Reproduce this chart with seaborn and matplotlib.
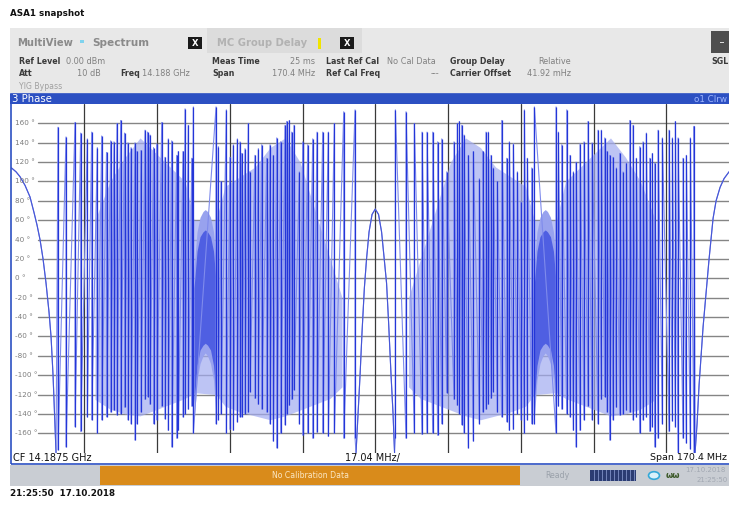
import matplotlib
matplotlib.use("Agg")
import matplotlib.pyplot as plt
import seaborn as sns
import numpy as np
from matplotlib.patches import Rectangle

# ---- trace values (x: MHz from CF, y: phase in deg) ----
left_arc_mhz = [-85.2, -84.14, -83.21, -82.03, -80.86, -79.93, -79.22, -78.52,
                -77.81, -77.11, -76.41, -75.94, -75.47, -75.12, -74.77]
left_arc_deg = [114, 110, 105, 96, 84, 68, 55, 40, 20, -5, -35, -60, -100, -140, -180]

center_arc_mhz = [-4.50, -4.03, -3.56, -3.09, -2.55, -2.04, -1.45, -0.75, 0.0,
                  0.77, 1.48, 2.06, 2.65, 3.12, 3.70, 4.17, 4.52]
center_arc_deg = [-180, -140, -100, -55, -10, 20, 48, 66, 71.5,
                  66, 48, 22, -5, -45, -100, -140, -180]

right_arc_mhz = [74.91, 75.38, 75.85, 76.32, 76.79, 77.49, 78.19, 79.13, 79.83,
                 80.77, 81.70, 82.87, 85.2]
right_arc_deg = [-180, -150, -110, -80, -50, -15, 20, 62, 80, 94, 103, 110, 120]

left_teeth_mhz = [-74.30, -72.43, -70.32, -68.99, -67.44, -66.41, -65.10, -64.07, -62.94, -61.96,
                  -61.19, -60.48, -59.62, -58.73, -57.91, -57.20, -56.27, -55.80, -54.86, -53.92,
                  -53.34, -52.75, -51.93, -51.18, -50.01, -49.24, -48.47, -47.67, -46.50, -46.12,
                  -45.02, -44.55, -43.78, -42.98, -42.61, -37.29, -36.75, -36.12, -34.88, -34.01,
                  -33.24, -32.30, -31.67, -31.27, -30.50, -29.73, -29.33, -28.16, -27.38, -26.59,
                  -25.42, -24.64, -23.87, -23.07, -22.14, -21.13, -20.73, -20.12, -19.56, -19.02,
                  -17.78, -16.98, -15.81, -14.64, -13.63, -12.30, -10.99, -9.58, -7.38, -4.73]
left_teeth_top = [156, 146, 161, 150, 144, 151, 135, 147, 130, 142,
                  141, 160, 163, 150, 140, 135, 140, 131, 132, 153,
                  151, 148, 135, 139, 161, 125, 144, 142, 127, 131,
                  131, 175, 158, 124, 177, 177, 136, 100, 174, 125,
                  138, 144, 141, 129, 134, 160, 110, 127, 134, 138,
                  124, 138, 127, 145, 141, 158, 162, 163, 151, 158,
                  110, 141, 138, 144, 151, 151, 151, 160, 172, 174]
left_teeth_bot = [-177, -174, -153, -158, -143, -146, -160, -146, -143, -138,
                  -136, -141, -140, -133, -146, -150, -167, -150, -138, -125,
                  -122, -130, -150, -146, -132, -145, -157, -174, -165, -157,
                  -143, -140, -135, -132, -160, -150, -146, -140, -160, -156,
                  -157, -148, -143, -143, -140, -138, -117, -124, -130, -135,
                  -138, -150, -168, -175, -160, -151, -140, -131, -125, -115,
                  -150, -162, -160, -165, -159, -160, -163, -160, -165, -165]

right_teeth_mhz = [4.71, 7.21, 9.16, 10.96, 12.13, 13.47, 14.64, 15.58, 16.75, 18.46,
                   19.23, 19.70, 20.26, 20.80, 21.81, 22.98, 24.39, 25.18, 25.95, 26.49,
                   27.13, 27.66, 28.60, 29.63, 30.80, 31.41, 32.35, 33.29, 34.15, 34.93,
                   35.63, 36.66, 37.27, 42.35, 42.89, 43.69, 44.86, 45.63, 46.41, 47.04,
                   47.97, 48.91, 49.85, 50.79, 52.19, 52.96, 53.76, 54.30, 54.93, 55.70,
                   56.48, 57.27, 58.05, 58.82, 59.62, 60.39, 61.16, 61.96, 62.73, 63.50,
                   64.30, 64.91, 65.47, 66.25, 67.25, 68.82, 69.60, 70.30, 70.93, 72.10,
                   72.87, 73.81, 74.68]
right_teeth_top = [174, 172, 160, 151, 151, 151, 141, 144, 110, 141,
                   160, 162, 158, 148, 127, 131, 103, 131, 151, 151,
                   127, 114, 100, 163, 124, 141, 139, 110, 79, 174,
                   124, 114, 177, 177, 151, 138, 174, 127, 110, 120,
                   139, 141, 162, 140, 153, 153, 145, 131, 127, 125,
                   114, 129, 110, 119, 163, 158, 124, 136, 141, 150,
                   124, 129, 119, 153, 145, 153, 145, 162, 145, 124,
                   127, 145, 157]
right_teeth_bot = [-165, -165, -160, -161, -160, -160, -162, -150, -118, -125,
                   -131, -140, -151, -160, -175, -168, -150, -138, -135, -130,
                   -124, -117, -138, -143, -148, -157, -156, -140, -146, -160,
                   -146, -150, -150, -160, -132, -135, -140, -143, -157, -174,
                   -157, -146, -132, -146, -150, -125, -122, -138, -167, -146,
                   -133, -141, -140, -136, -138, -146, -143, -160, -146, -143,
                   -158, -153, -174, -165, -150, -158, -147, -153, -180, -165,
                   -170, -176, -180]

# dense (aliased) zones of the trace: envelopes
left_fill_mhz = [-65.64, -62.12, -58.61, -55.10, -51.58, -48.07, -44.55, -42.45, -37.29,
                 -35.18, -31.67, -28.16, -24.64, -21.13, -17.62, -14.10, -10.59, -7.78]
left_fill_hi = [60, 100, 125, 145, 130, 115, 100, 60, 60, 95, 105, 115, 135, 145, 120, 70, 20, -20]
left_fill_lo = [-125, -135, -140, -142, -136, -130, -124, -118, -120,
                -132, -138, -142, -146, -142, -136, -130, -124, -112]
right_fill_mhz = [7.78, 10.59, 14.10, 17.62, 21.13, 24.64, 28.16, 31.67, 35.18,
                  37.29, 42.45, 44.55, 48.07, 51.58, 55.10, 58.61, 62.12, 65.64]
right_fill_hi = [-20, 20, 70, 120, 145, 135, 115, 105, 95, 60, 60, 100, 115, 130, 145, 125, 100, 60]
right_fill_lo = [-112, -124, -130, -136, -142, -146, -142, -138, -132,
                 -120, -118, -124, -130, -136, -142, -140, -135, -125]

left_bump_mhz = [-42.45, -41.74, -41.04, -40.34, -39.82, -39.28, -38.58, -37.88, -37.18]
right_bump_mhz = [37.18, 37.88, 38.58, 39.28, 39.82, 40.34, 41.04, 41.74, 42.45]
bump_outer_hi = [10, 48, 63, 69, 71, 69, 63, 48, 10]
bump_outer_lo = [-150, -105, -88, -80, -77, -80, -88, -105, -150]
bump_core_hi = [-10, 28, 43, 48, 50, 48, 43, 28, -10]
bump_core_lo = [-130, -90, -74, -69, -67, -69, -74, -90, -130]

y_ticks = [160, 140, 120, 100, 80, 60, 40, 20, 0, -20, -40, -60, -80, -100, -120, -140, -160]

W, H = 729, 505
DARK = '#2436d8'
PALE = '#7f8bec'

sns.set_style("white")
plt.rcParams['font.family'] = ['DejaVu Sans']

fig = plt.figure(figsize=(W / 100, H / 100), dpi=100)


def fx(px):
    return px / W


def fy(py):
    return 1 - py / H


def box(x0, y0, x1, y1, color, **kw):
    fig.add_artist(Rectangle((fx(x0), fy(y1)), (x1 - x0) / W, (y1 - y0) / H,
                             transform=fig.transFigure, facecolor=color,
                             edgecolor=kw.pop('edgecolor', 'none'), **kw))


def label(x, y, s, **kw):
    kw.setdefault('va', 'center')
    fig.text(fx(x), fy(y), s, **kw)


# ---------------- header ----------------
label(10, 14, 'ASA1 snapshot', fontsize=6.3, fontweight='bold', color='#111111')
box(10, 28, 729, 94, '#e8e8e8')
box(207, 28, 362, 53, '#dcdcdc')
label(17, 43, 'MultiView', fontsize=7.2, fontweight='bold', color='#8a8a8a')
box(80, 39.5, 84, 42.5, '#7fd3ee')
label(92, 43, 'Spectrum', fontsize=7.6, fontweight='bold', color='#8a8a8a')
box(188, 37.5, 202.5, 48.5, '#1a1a1a')
label(195.3, 43, 'X', fontsize=6, fontweight='bold', color='white', ha='center')
label(217, 43, 'MC Group Delay', fontsize=7.2, fontweight='bold', color='#b2b2b2')
box(318, 38, 320.5, 49, '#f0e400')
box(339.5, 37.5, 354, 48.5, '#1a1a1a')
label(346.8, 43, 'X', fontsize=6, fontweight='bold', color='white', ha='center')
box(711, 31, 729, 53, '#4e4e4e')
box(720, 41.5, 724, 42.5, '#dddddd')

LBL = dict(fontsize=5.7, fontweight='bold', color='#3a3a3a')
VAL = dict(fontsize=5.9, color='#808080')
label(19, 61, 'Ref Level', **LBL)
label(66, 61, '0.00 dBm', **VAL)
label(212, 61, 'Meas Time', **LBL)
label(315, 61, '25 ms', ha='right', **VAL)
label(326, 61, 'Last Ref Cal', **LBL)
label(387, 61, 'No Cal Data', **VAL)
label(450, 61, 'Group Delay', **LBL)
label(571, 61, 'Relative', ha='right', **VAL)
label(711, 61, 'SGL', **LBL)
label(19, 73.5, 'Att', **LBL)
label(101, 73.5, '10 dB', ha='right', **VAL)
label(120, 73.5, 'Freq', **LBL)
label(142, 73.5, '14.188 GHz', **VAL)
label(212, 73.5, 'Span', **LBL)
label(315, 73.5, '170.4 MHz', ha='right', **VAL)
label(326, 73.5, 'Ref Cal Freq', **LBL)
label(439, 73.5, '---', ha='right', **VAL)
label(450, 73.5, 'Carrier Offset', **LBL)
label(571, 73.5, '41.92 mHz', ha='right', **VAL)
label(19, 86.5, 'YIG Bypass', fontsize=5.6, color='#a0a0a0')

# title bar of the window
box(10, 94, 740, 104, '#2c50c2')
label(12, 99.2, '3 Phase', fontsize=7.3, color='white')
label(727, 99.2, 'o1 Clrw', fontsize=6.3, color='#9fb6ff', ha='right')

# ---------------- plot ----------------
ax = fig.add_axes([fx(11.5), fy(452.7), (739 - 11.5) / W, (452.7 - 104) / H])
ax.set_xlim(-85.2, 85.2)
ax.set_ylim(-180, 180)
ax.set_xticks([])
ax.set_yticks([])
for s in ax.spines.values():
    s.set_visible(False)

for yv in y_ticks:
    ax.axhline(yv, xmin=0.036, color='#858585', lw=1.0, zorder=1)
    ax.text(0.005, yv, f'{yv} °', transform=ax.get_yaxis_transform(),
            fontsize=5.2, color='#7c7c7c', va='center', ha='left', zorder=6)
for k in range(-4, 5):
    ax.axvline(k * 17.04, color='#3a3a3a', lw=0.9, zorder=1)

# dense zones
for xs, lo, hi in [(left_fill_mhz, left_fill_lo, left_fill_hi),
                   (right_fill_mhz, right_fill_lo, right_fill_hi)]:
    ax.fill_between(xs, lo, hi, color='#a2abf0', alpha=0.7, lw=0, zorder=2)
for xs in [left_bump_mhz, right_bump_mhz]:
    ax.fill_between(xs, bump_outer_lo, bump_outer_hi, color='#98a2ee', lw=0, zorder=2)
    ax.fill_between(xs, bump_core_lo, bump_core_hi, color='#4f5fe2', lw=0, zorder=2)

# trace: one polyline through arcs and teeth
tx, ty = list(left_arc_mhz), list(left_arc_deg)
for x, t, b in zip(left_teeth_mhz, left_teeth_top, left_teeth_bot):
    tx += [x, x]
    ty += [t, b]
tx += center_arc_mhz
ty += center_arc_deg
for x, t, b in zip(right_teeth_mhz, right_teeth_top, right_teeth_bot):
    tx += [x, x]
    ty += [b, t]
tx += right_arc_mhz
ty += right_arc_deg
sns.lineplot(x=tx, y=ty, sort=False, estimator=None, ax=ax, color=PALE, lw=0.8, zorder=3)

ax.vlines(left_teeth_mhz, left_teeth_bot, left_teeth_top, color=DARK, lw=0.9, zorder=4)
ax.vlines(right_teeth_mhz, right_teeth_bot, right_teeth_top, color=DARK, lw=0.9, zorder=4)
for xs, ys in [(left_arc_mhz, left_arc_deg), (center_arc_mhz, center_arc_deg),
               (right_arc_mhz, right_arc_deg)]:
    sns.lineplot(x=xs, y=ys, sort=False, estimator=None, ax=ax, color='#4656d6', lw=0.8, zorder=4)
ax.set_xlabel('')
ax.set_ylabel('')

# window frame and footer row
fig.add_artist(Rectangle((fx(10.5), fy(463.5)), (740 - 10.5) / W, (463.5 - 94) / H,
                         transform=fig.transFigure, facecolor='none',
                         edgecolor='#2c50c2', lw=1.2))
label(13, 457.8, 'CF 14.1875 GHz', fontsize=7, color='#111111')
label(345, 457.8, '17.04 MHz/', fontsize=7, color='#111111')
label(727, 457.8, 'Span 170.4 MHz', fontsize=6.8, color='#111111', ha='right')

# ---------------- status bar ----------------
box(10, 465, 729, 486, '#c9cdd3')
box(100, 466, 520, 485, '#d98b1b')
label(310, 475.5, 'No Calibration Data', fontsize=5.6, color='#fbe7c4', ha='center')
label(545, 475.5, 'Ready', fontsize=5.7, color='#9aa1aa')
box(590, 470, 636, 481, '#2b3c72')
for sx in range(594, 636, 4):
    box(sx, 470, sx + 0.6, 481, '#7183b8')
fig.add_artist(plt.Circle((fx(654), fy(475.5)), 0.0075, transform=fig.transFigure,
                          facecolor='#d9f2fb', edgecolor='#33a8d8', lw=1.2))
label(666, 475.5, 'ωω', fontsize=6, fontweight='bold', color='#3d5a2a')
label(685, 470.5, '17.10.2018', fontsize=5, color='#a2a8b2')
label(697, 480, '21:25:50', fontsize=5, color='#a2a8b2')

label(10, 493, '21:25:50  17.10.2018', fontsize=6.3, fontweight='bold', color='#111111')

fig.savefig('out.png', dpi=100)
